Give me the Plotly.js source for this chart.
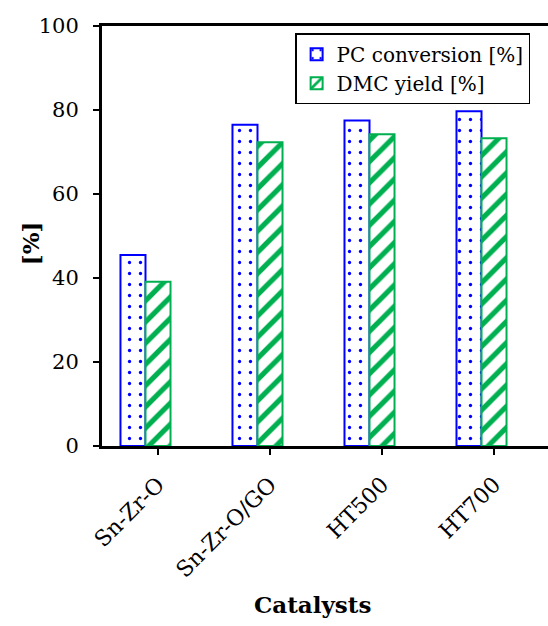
<!DOCTYPE html>
<html>
<head>
<meta charset="utf-8">
<script src="https://cdn.plot.ly/plotly-3.0.1.min.js"></script>
<style>
html,body{margin:0;padding:0;background:#fff;}
#chart{width:548px;height:626px;}
</style>
</head>
<body>
<div id="chart"></div>
<script>
const categories = ["Sn-Zr-O", "Sn-Zr-O/GO", "HT500", "HT700"];
const pcConversion = [45.5, 76.5, 77.5, 79.7];
const dmcYield = [39.1, 72.3, 74.2, 73.3];
const seriesNames = ["PC conversion [%]", "DMC yield [%]"];
const yTicks = [0, 20, 40, 60, 80, 100];
const xTitle = "Catalysts";
const yTitle = "[%]";

const FONT = "DejaVu Serif";
const BLUE = "#0000FF";
const GREEN = "#00B050";

const traces = [
  {
    type: "bar", x: categories, y: pcConversion, name: seriesNames[0],
    marker: {
      color: "#FFFFFF",
      line: {color: BLUE, width: 2},
      pattern: {shape: ".", fgcolor: BLUE, bgcolor: "#FFFFFF", size: 11, solidity: 0.07}
    }
  },
  {
    type: "bar", x: categories, y: dmcYield, name: seriesNames[1],
    marker: {
      color: "#FFFFFF",
      line: {color: GREEN, width: 2},
      pattern: {shape: "/", fgcolor: GREEN, bgcolor: "#FFFFFF", size: 15, solidity: 0.35}
    }
  },
  {
    type: "bar", x: categories, y: categories.map(() => null), name: "",
    showlegend: false, hoverinfo: "skip", marker: {color: "rgba(0,0,0,0)"}
  }
];

const layout = {
  width: 548, height: 626,
  margin: {l: 102, r: 0, t: 26, b: 180, pad: 0},
  paper_bgcolor: "#FFFFFF", plot_bgcolor: "#FFFFFF",
  font: {family: FONT, color: "#000000", size: 20},
  barmode: "group", bargap: 0.33, bargroupgap: 0,
  showlegend: true,
  legend: {
    x: 0.433, y: 0.983, xanchor: "left", yanchor: "top",
    bgcolor: "#FFFFFF", bordercolor: "#000000", borderwidth: 1.5,
    font: {family: FONT, size: 20, color: "#000000"},
    tracegroupgap: 0
  },
  xaxis: {
    type: "category", range: [-0.5, 3.482],
    showline: true, linecolor: "#000000", linewidth: 3, mirror: true,
    ticks: "outside", ticklen: 6, tickwidth: 2.5, tickcolor: "#000000",
    tickangle: -45, ticklabelstandoff: 8,
    tickfont: {family: FONT, size: 22, color: "#000000"},
    showgrid: false, zeroline: false
  },
  yaxis: {
    range: [0, 100], tickvals: yTicks, ticktext: yTicks.map(String),
    showline: true, linecolor: "#000000", linewidth: 3,
    ticks: "outside", ticklen: 6, tickwidth: 2.5, tickcolor: "#000000",
    ticklabelstandoff: 10,
    tickfont: {family: FONT, size: 21, color: "#000000"},
    showgrid: false, zeroline: false
  },
  annotations: [
    {
      text: "<b>" + xTitle + "</b>", xref: "paper", yref: "paper",
      x: 0.473, y: -0.378, xanchor: "center", yanchor: "middle", showarrow: false,
      font: {family: FONT, size: 23, color: "#000000"}
    },
    {
      text: "<b>" + yTitle + "</b>", xref: "paper", yref: "paper", textangle: -90,
      x: -0.1614, y: 0.483, xanchor: "center", yanchor: "middle", showarrow: false,
      font: {family: FONT, size: 23, color: "#000000"}
    }
  ]
};

Plotly.newPlot("chart", traces, layout, {displayModeBar: false, staticPlot: true});
</script>
</body>
</html>
